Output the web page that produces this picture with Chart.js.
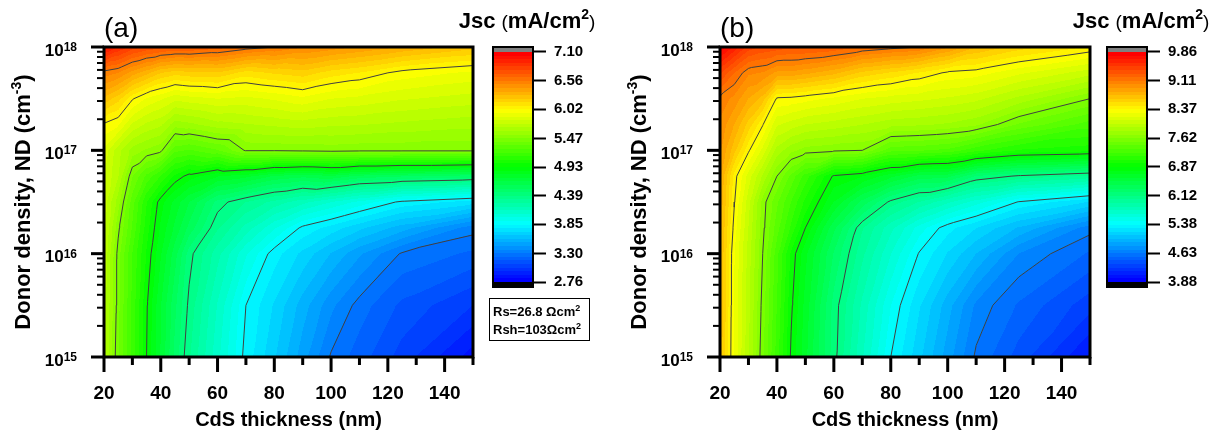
<!DOCTYPE html>
<html>
<head>
<meta charset="utf-8">
<script src="https://cdn.jsdelivr.net/npm/chart.js@4.4.1/dist/chart.umd.min.js"></script>
<style>
  html, body { margin: 0; padding: 0; background: #fff; }
  #page { position: relative; width: 1218px; height: 435px; overflow: hidden; background: #fff; }
  .box { position: absolute; top: 0; height: 435px; }
</style>
</head>
<body>
<div id="page">
  <div class="box" style="left:0;width:478px"><canvas id="mapA"></canvas></div>
  <div class="box" style="left:440px;width:175px"><canvas id="barA"></canvas></div>
  <div class="box" style="left:610px;width:484px"><canvas id="mapB"></canvas></div>
  <div class="box" style="left:1054px;width:164px"><canvas id="barB"></canvas></div>
</div>
<script>
// Simulation grid: CdS thickness (nm) and donor density (log10 cm^-3)
const thickness = [20, 25, 30, 35, 40, 45, 50, 60, 70, 80, 90, 100, 110, 125, 150];
const logDonor = [15, 15.5, 16, 16.25, 16.5, 16.75, 17, 17.25, 17.5, 17.75, 18];

// Jsc (mA/cm2) with Rs=26.8, Rsh=103 -- one row per donor density, bottom row first
const jscA = [
  [5.70, 5.41, 5.17, 4.93, 4.72, 4.50, 4.33, 4.07, 3.82, 3.65, 3.47, 3.29, 3.20, 3.07, 2.86],
  [5.72, 5.43, 5.18, 4.94, 4.73, 4.54, 4.37, 4.11, 3.85, 3.70, 3.54, 3.39, 3.27, 3.15, 3.03],
  [5.75, 5.44, 5.20, 4.99, 4.80, 4.62, 4.42, 4.21, 3.99, 3.81, 3.69, 3.57, 3.45, 3.29, 3.22],
  [5.77, 5.49, 5.26, 5.03, 4.85, 4.71, 4.57, 4.33, 4.16, 3.99, 3.83, 3.75, 3.66, 3.54, 3.33],
  [5.79, 5.57, 5.30, 5.07, 4.89, 4.77, 4.66, 4.43, 4.32, 4.23, 4.14, 4.05, 3.96, 3.83, 3.74],
  [5.82, 5.68, 5.41, 5.25, 5.13, 4.98, 4.90, 4.80, 4.75, 4.65, 4.61, 4.65, 4.57, 4.53, 4.49],
  [5.86, 5.70, 5.58, 5.53, 5.49, 5.29, 5.26, 5.33, 5.48, 5.48, 5.49, 5.50, 5.49, 5.49, 5.49],
  [6.01, 5.96, 5.80, 5.73, 5.69, 5.57, 5.59, 5.65, 5.67, 5.69, 5.71, 5.69, 5.68, 5.66, 5.63],
  [6.27, 6.18, 6.03, 5.94, 5.89, 5.83, 5.85, 5.88, 5.86, 5.89, 5.93, 5.88, 5.86, 5.82, 5.78],
  [6.53, 6.49, 6.39, 6.31, 6.22, 6.18, 6.20, 6.21, 6.12, 6.16, 6.19, 6.12, 6.08, 5.99, 5.93],
  [7.02, 6.90, 6.80, 6.75, 6.72, 6.70, 6.70, 6.66, 6.60, 6.56, 6.50, 6.46, 6.42, 6.35, 6.25]
];

// Jsc (mA/cm2) for the second resistance case
const jscB = [
  [8.72, 8.26, 7.91, 7.55, 7.20, 6.85, 6.62, 6.16, 5.76, 5.38, 5.12, 4.86, 4.61, 4.40, 4.05],
  [8.74, 8.27, 7.93, 7.58, 7.24, 6.89, 6.65, 6.18, 5.82, 5.47, 5.20, 4.95, 4.70, 4.52, 4.29],
  [8.76, 8.28, 7.95, 7.62, 7.28, 6.94, 6.71, 6.30, 5.96, 5.66, 5.37, 5.18, 5.00, 4.72, 4.52],
  [8.79, 8.33, 7.99, 7.65, 7.38, 7.13, 6.87, 6.43, 6.04, 5.78, 5.52, 5.32, 5.19, 4.99, 4.67],
  [8.82, 8.38, 8.03, 7.67, 7.45, 7.24, 7.03, 6.68, 6.37, 6.09, 5.93, 5.77, 5.61, 5.37, 5.18],
  [8.86, 8.42, 8.14, 7.88, 7.62, 7.40, 7.20, 6.85, 6.78, 6.62, 6.46, 6.44, 6.21, 6.10, 6.00],
  [8.94, 8.68, 8.39, 8.15, 7.86, 7.74, 7.67, 7.64, 7.62, 7.37, 7.35, 7.31, 7.18, 7.05, 7.00],
  [9.00, 8.83, 8.61, 8.38, 8.10, 8.04, 7.99, 7.95, 7.90, 7.84, 7.82, 7.79, 7.73, 7.51, 7.29],
  [9.08, 8.99, 8.83, 8.70, 8.35, 8.34, 8.31, 8.25, 8.18, 8.14, 8.11, 8.07, 8.02, 7.87, 7.62],
  [9.41, 9.21, 9.04, 9.01, 8.90, 8.90, 8.86, 8.77, 8.62, 8.54, 8.45, 8.35, 8.32, 8.20, 8.03],
  [9.85, 9.65, 9.45, 9.38, 9.35, 9.33, 9.32, 9.28, 9.20, 9.15, 9.11, 8.95, 8.75, 8.60, 8.45]
];

// Colour scale ticks (also the contour levels)
const scaleTicksA = [2.76, 3.30, 3.85, 4.39, 4.93, 5.47, 6.02, 6.56, 7.10];
const scaleTicksB = [3.88, 4.63, 5.38, 6.12, 6.87, 7.62, 8.37, 9.11, 9.86];

// Axis labels
const thicknessLabels = [20, 40, 60, 80, 100, 120, 140];
const donorExponents = [15, 16, 17, 18];

const FONT = '"Liberation Sans", Arial, sans-serif';
const bandsPerStep = 8;

// blue -> cyan -> green -> yellow -> red
function rainbow(f) {
  const stops = [[0, 0, 255], [0, 255, 255], [0, 255, 0], [255, 255, 0], [255, 0, 0]];
  const p = Math.min(Math.max(f, 0), 1) * 4;
  const k = Math.min(Math.floor(p), 3);
  const t = p - k;
  return stops[k].map((c, i) => Math.round(c + (stops[k + 1][i] - c) * t));
}

function makePalette(ticks) {
  const n = (ticks.length - 1) * bandsPerStep;
  return Array.from({length: n}, (_, k) => rainbow(k / (n - 1)));
}

function locate(arr, v) {
  v = Math.min(Math.max(v, arr[0]), arr[arr.length - 1]);
  let i = 0;
  while (i < arr.length - 2 && v > arr[i + 1]) i++;
  return {i, f: (v - arr[i]) / (arr[i + 1] - arr[i])};
}

// linear interpolation on the two triangles of each grid cell
function cellValue(grid, c, r) {
  const v00 = grid[r.i][c.i], v10 = grid[r.i][c.i + 1];
  const v01 = grid[r.i + 1][c.i], v11 = grid[r.i + 1][c.i + 1];
  if (c.f >= r.f) return v00 + c.f * (v10 - v00) + r.f * (v11 - v10);
  return v00 + r.f * (v01 - v00) + c.f * (v11 - v01);
}

// iso-line segments through the same triangles, NaN points break the line
function contourSegments(grid, level) {
  const pts = [];
  for (let j = 0; j < logDonor.length - 1; j++) {
    for (let i = 0; i < thickness.length - 1; i++) {
      const a = {x: thickness[i], L: logDonor[j], v: grid[j][i]};
      const b = {x: thickness[i + 1], L: logDonor[j], v: grid[j][i + 1]};
      const c = {x: thickness[i + 1], L: logDonor[j + 1], v: grid[j + 1][i + 1]};
      const d = {x: thickness[i], L: logDonor[j + 1], v: grid[j + 1][i]};
      for (const tri of [[a, b, c], [a, c, d]]) {
        const cross = [];
        for (let k = 0; k < 3; k++) {
          const p = tri[k], q = tri[(k + 1) % 3];
          if ((p.v >= level) !== (q.v >= level)) {
            const s = (level - p.v) / (q.v - p.v);
            cross.push({x: p.x + s * (q.x - p.x), y: Math.pow(10, p.L + s * (q.L - p.L))});
          }
        }
        if (cross.length === 2) pts.push(cross[0], cross[1], {x: NaN, y: NaN});
      }
    }
  }
  return pts;
}

function strokeLine(ctx, x1, y1, x2, y2) {
  ctx.beginPath();
  ctx.moveTo(x1, y1);
  ctx.lineTo(x2, y2);
  ctx.stroke();
}

// draws [text, font, dy] pieces left to right starting at x
function drawPieces(ctx, pieces, x, y) {
  for (const [t, f, dy] of pieces) {
    ctx.font = f;
    ctx.fillText(t, x, y + dy);
    x += ctx.measureText(t).width;
  }
  return x;
}

function piecesWidth(ctx, pieces) {
  let w = 0;
  for (const [t, f] of pieces) { ctx.font = f; w += ctx.measureText(t).width; }
  return w;
}

function mapPlugin(grid, ticks, panelLabel) {
  const lo = ticks[0], hi = ticks[ticks.length - 1];
  const palette = makePalette(ticks);
  const n = palette.length;
  return {
    id: 'contourMap',
    beforeDatasetsDraw(chart) {
      const {ctx, chartArea: a, scales: {x, y}} = chart;
      const x0 = Math.round(a.left), y0 = Math.round(a.top);
      const w = Math.round(a.right) - x0, h = Math.round(a.bottom) - y0;
      const img = ctx.createImageData(w, h);
      const cols = [], rows = [];
      for (let px = 0; px < w; px++) cols.push(locate(thickness, x.getValueForPixel(x0 + px + 0.5)));
      for (let py = 0; py < h; py++) rows.push(locate(logDonor, Math.log10(y.getValueForPixel(y0 + py + 0.5))));
      let o = 0;
      for (let py = 0; py < h; py++) {
        for (let px = 0; px < w; px++) {
          const v = cellValue(grid, cols[px], rows[py]);
          let k = Math.floor((v - lo) / (hi - lo) * n);
          k = Math.min(Math.max(k, 0), n - 1);
          const col = palette[k];
          img.data[o] = col[0]; img.data[o + 1] = col[1]; img.data[o + 2] = col[2]; img.data[o + 3] = 255;
          o += 4;
        }
      }
      ctx.putImageData(img, x0, y0);
    },
    afterDatasetsDraw(chart) {
      const {ctx, chartArea: a, scales: {x, y}} = chart;
      ctx.save();
      ctx.strokeStyle = '#000';
      ctx.fillStyle = '#000';

      // x ticks every 10 nm, longer under the labelled ones
      ctx.lineWidth = 3;
      for (let v = 20; v <= 150; v += 10) {
        const px = x.getPixelForValue(v);
        strokeLine(ctx, px, a.bottom, px, a.bottom + (thicknessLabels.includes(v) ? 15 : 8));
      }
      // log ticks on the density axis
      for (let e = donorExponents[0]; e <= donorExponents[donorExponents.length - 1]; e++) {
        for (let m = 1; m <= 9; m++) {
          const v = m * Math.pow(10, e);
          if (v > 1.0001e18) break;
          const py = y.getPixelForValue(v);
          ctx.lineWidth = m === 1 ? 3 : 2;
          strokeLine(ctx, a.left - (m === 1 ? 13 : 7), py, a.left, py);
        }
      }
      ctx.lineWidth = 3;
      ctx.strokeRect(a.left, a.top, a.right - a.left, a.bottom - a.top);

      // 10^n labels
      ctx.textBaseline = 'alphabetic';
      ctx.textAlign = 'left';
      for (const e of donorExponents) {
        const py = y.getPixelForValue(Math.pow(10, e));
        const pieces = [['10', 'bold 17px ' + FONT, 8.5], [String(e), 'bold 12px ' + FONT, 4]];
        const w = piecesWidth(ctx, pieces);
        drawPieces(ctx, pieces, a.left - 27 - w, py);
      }

      // axis titles
      ctx.font = 'bold 20px ' + FONT;
      ctx.textAlign = 'center';
      ctx.textBaseline = 'middle';
      ctx.fillText('CdS thickness (nm)', (a.left + a.right) / 2, 420);

      ctx.save();
      ctx.translate(a.left - 82, (a.top + a.bottom) / 2);
      ctx.rotate(-Math.PI / 2);
      ctx.textAlign = 'left';
      ctx.textBaseline = 'alphabetic';
      const yTitle = [['Donor density, ND (cm', 'bold 22px ' + FONT, 8], ['-3', 'bold 14px ' + FONT, -1], [')', 'bold 22px ' + FONT, 8]];
      drawPieces(ctx, yTitle, -piecesWidth(ctx, yTitle) / 2, 0);
      ctx.restore();

      // panel tag
      ctx.font = '28px ' + FONT;
      ctx.textAlign = 'left';
      ctx.textBaseline = 'alphabetic';
      ctx.fillText(panelLabel, a.left, 37);
      ctx.restore();
    }
  };
}

function colorbarPlugin(ticks, note) {
  const lo = ticks[0], hi = ticks[ticks.length - 1];
  const palette = makePalette(ticks);
  const step = (hi - lo) / palette.length;
  return {
    id: 'colorbar',
    beforeDatasetsDraw(chart) {
      const {ctx, chartArea: a, scales: {y}} = chart;
      const w = a.right - a.left;
      ctx.save();
      palette.forEach((c, k) => {
        const yb = Math.round(y.getPixelForValue(lo + k * step));
        const yt = Math.round(y.getPixelForValue(lo + (k + 1) * step));
        ctx.fillStyle = `rgb(${c[0]},${c[1]},${c[2]})`;
        ctx.fillRect(a.left, yt, w, yb - yt);
      });
      // out-of-range caps
      ctx.fillStyle = '#808080';
      ctx.fillRect(a.left, a.top, w, Math.round(y.getPixelForValue(hi)) - a.top);
      ctx.fillStyle = '#000';
      const yl = Math.round(y.getPixelForValue(lo));
      ctx.fillRect(a.left, yl, w, a.bottom - yl);
      ctx.strokeStyle = '#000';
      ctx.lineWidth = 2;
      ctx.strokeRect(a.left, a.top, w, a.bottom - a.top);
      ctx.restore();
    },
    afterDraw(chart) {
      const {ctx, chartArea: a} = chart;
      ctx.save();
      ctx.fillStyle = '#000';
      ctx.textAlign = 'left';
      ctx.textBaseline = 'alphabetic';
      const title = [
        ['Jsc ', 'bold 22px ' + FONT, 0],
        ['(', '19px ' + FONT, 0],
        ['mA/cm', 'bold 22px ' + FONT, 0],
        ['2', 'bold 14px ' + FONT, -9],
        [')', '19px ' + FONT, 0]
      ];
      const cx = (a.left + a.right) / 2 + 14;
      drawPieces(ctx, title, cx - piecesWidth(ctx, title) / 2, 28);

      if (note) {
        ctx.strokeStyle = '#000';
        ctx.lineWidth = 1;
        ctx.fillStyle = '#fff';
        ctx.fillRect(a.left - 4, 298, 100, 43);
        ctx.strokeRect(a.left - 3.5, 298.5, 100, 42);
        ctx.fillStyle = '#000';
        for (let i = 0; i < note.length; i++) {
          drawPieces(ctx, note[i], a.left, 315.5 + i * 18.5);
        }
      }
      ctx.restore();
    }
  };
}

function buildMap(id, grid, ticks, panelLabel, leftWidth, rightPad) {
  const levels = ticks.slice(1, -1);
  new Chart(document.getElementById(id), {
    type: 'scatter',
    data: {
      datasets: levels.map(level => ({
        data: contourSegments(grid, level),
        showLine: true,
        spanGaps: false,
        borderColor: '#404040',
        borderWidth: 1,
        pointRadius: 0
      }))
    },
    options: {
      responsive: true,
      maintainAspectRatio: false,
      animation: false,
      devicePixelRatio: 1,
      events: [],
      layout: {padding: {left: 0, top: 47, right: rightPad, bottom: 0}},
      plugins: {legend: {display: false}, tooltip: {enabled: false}},
      scales: {
        x: {
          type: 'linear', min: 20, max: 150,
          // tick marks are drawn by the plugin; tickLength only spaces the labels
          grid: {display: false, drawTicks: true, tickLength: 25},
          border: {display: false},
          ticks: {
            stepSize: 10, autoSkip: false, maxRotation: 0, padding: 0,
            color: '#000', font: {family: FONT, size: 19, weight: 'bold'},
            callback: v => thicknessLabels.includes(v) ? String(v) : ''
          },
          afterFit: s => { s.height = 78; }
        },
        y: {
          type: 'logarithmic', min: 1e15, max: 1e18,
          grid: {display: false, drawTicks: false},
          border: {display: false},
          ticks: {display: false},
          afterFit: s => { s.width = leftWidth; }
        }
      }
    },
    plugins: [mapPlugin(grid, ticks, panelLabel)]
  });
}

function buildColorbar(id, ticks, rightPad, note) {
  const lo = ticks[0], hi = ticks[ticks.length - 1];
  const cap = (hi - lo) * 5 / 231;
  new Chart(document.getElementById(id), {
    type: 'scatter',
    data: {datasets: []},
    options: {
      responsive: true,
      maintainAspectRatio: false,
      animation: false,
      devicePixelRatio: 1,
      events: [],
      layout: {padding: {left: 53, top: 47, right: rightPad, bottom: 148}},
      plugins: {legend: {display: false}, tooltip: {enabled: false}},
      scales: {
        x: {display: false, min: 0, max: 1},
        y: {
          position: 'right', min: lo - cap, max: hi + cap,
          afterBuildTicks: s => { s.ticks = ticks.map(v => ({value: v})); },
          grid: {drawOnChartArea: false, drawTicks: true, tickLength: 13, tickWidth: 2, tickColor: '#000'},
          border: {display: false},
          ticks: {
            padding: 8, color: '#000',
            font: {family: FONT, size: 15, weight: 'bold'},
            callback: v => Number(v).toFixed(2)
          },
          afterFit: s => { s.width = 70; }
        }
      }
    },
    plugins: [colorbarPlugin(ticks, note)]
  });
}

buildMap('mapA', jscA, scaleTicksA, '(a)', 104, 5);
buildColorbar('barA', scaleTicksA, 12, [
  [['Rs=26.8 ', 'bold 13px ' + FONT, 0], ['\u03A9', 'bold 13px ' + FONT, 0], ['cm', 'bold 13px ' + FONT, 0], ['2', 'bold 9px ' + FONT, -5]],
  [['Rsh=103', 'bold 13px ' + FONT, 0], ['\u03A9', 'bold 13px ' + FONT, 0], ['cm', 'bold 13px ' + FONT, 0], ['2', 'bold 9px ' + FONT, -5]]
]);
buildMap('mapB', jscB, scaleTicksB, '(b)', 110, 4);
buildColorbar('barB', scaleTicksB, 1, null);
</script>
</body>
</html>
